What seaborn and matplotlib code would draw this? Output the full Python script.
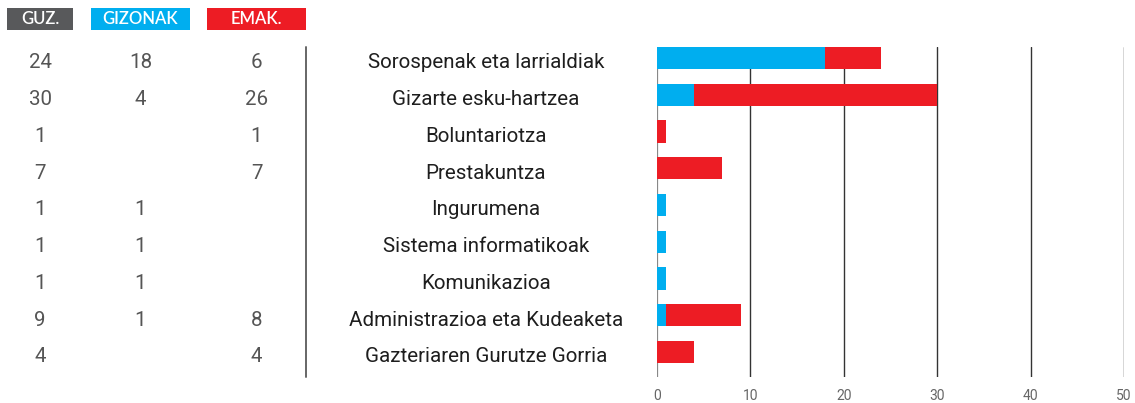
import matplotlib
matplotlib.use("Agg")
import matplotlib.pyplot as plt
import matplotlib.patches as mpatches
import matplotlib.transforms as mtransforms
import seaborn as sns
import pandas as pd

categories = ["Sorospenak eta larrialdiak", "Gizarte esku-hartzea", "Boluntariotza",
              "Prestakuntza", "Ingurumena", "Sistema informatikoak", "Komunikazioa",
              "Administrazioa eta Kudeaketa", "Gazteriaren Gurutze Gorria"]
total = [24, 30, 1, 7, 1, 1, 1, 9, 4]
men = [18, 4, 0, 0, 1, 1, 1, 1, 0]
women = [6, 26, 1, 7, 0, 0, 0, 8, 4]
headers = ["GUZ.", "GIZONAK", "EMAK."]
x_ticks = [0, 10, 20, 30, 40, 50]

BLUE = "#00AEEF"
RED = "#ED1C24"
DARK = "#58595B"

sns.set_style("white")
plt.rcParams["font.family"] = ["Roboto", "DejaVu Sans"]

W, H = 1135, 403
fig = plt.figure(figsize=(W / 100, H / 100), dpi=100)
ax = fig.add_axes([657 / W, 26 / H, 467 / W, 330 / H])

df = pd.DataFrame({"cat": categories, "total": total, "men": men, "women": women})
df["stack"] = df["men"] + df["women"]

# red = full stack, blue drawn over it from zero
sns.barplot(data=df, x="stack", y="cat", color=RED, width=0.6, saturation=1,
            linewidth=0, ax=ax, zorder=3)
sns.barplot(data=df, x="men", y="cat", color=BLUE, width=0.6, saturation=1,
            linewidth=0, ax=ax, zorder=4)

ax.set_xlim(0, 50)
ax.set_ylim(8.68, -0.3)
ax.set_xticks(x_ticks)
ax.set_yticks([])
ax.set_xlabel("")
ax.set_ylabel("")
for s in ax.spines.values():
    s.set_visible(False)
ax.tick_params(axis="x", length=0, pad=9, labelsize=10, labelcolor="#666666")
for v in x_ticks[1:]:
    ax.axvline(v, color="#333333", lw=1, zorder=1)
ax.axvline(0, color="#888888", lw=1.6, zorder=1)

# table on the left, x in figure pixels, y in data rows
tr = mtransforms.blended_transform_factory(fig.transFigure, ax.transData)
col_x = [40, 140.5, 256.5]
for i in range(len(categories)):
    vals = [total[i], men[i], women[i]]
    for cx, v in zip(col_x, vals):
        if v:
            fig.text(cx / W, i + 0.13, str(v), transform=tr, ha="center", va="center",
                     fontsize=14.8, color="#555555")
    fig.text(486 / W, i + 0.13, categories[i], transform=tr, ha="center", va="center",
             fontsize=14.8, color="#1e1e1e")

# divider line
fig.add_artist(plt.Line2D([306 / W, 306 / W], [1 - 47 / H, 1 - 377 / H],
                          transform=fig.transFigure, color="#666666", lw=1.4))

# header boxes
boxes = [(7, 73, DARK), (91, 190, BLUE), (207, 306, RED)]
for (x0, x1, c), label in zip(boxes, headers):
    fig.add_artist(mpatches.Rectangle((x0 / W, 1 - 30 / H), (x1 - x0) / W, 22 / H,
                                      transform=fig.transFigure, color=c, lw=0))
    fig.text((x0 + x1) / 2 / W, 1 - 19.5 / H, label, ha="center", va="center",
             color="white", fontsize=12, fontweight="semibold",
             family=["Lato", "DejaVu Sans"])

fig.savefig("out.png", dpi=100)
